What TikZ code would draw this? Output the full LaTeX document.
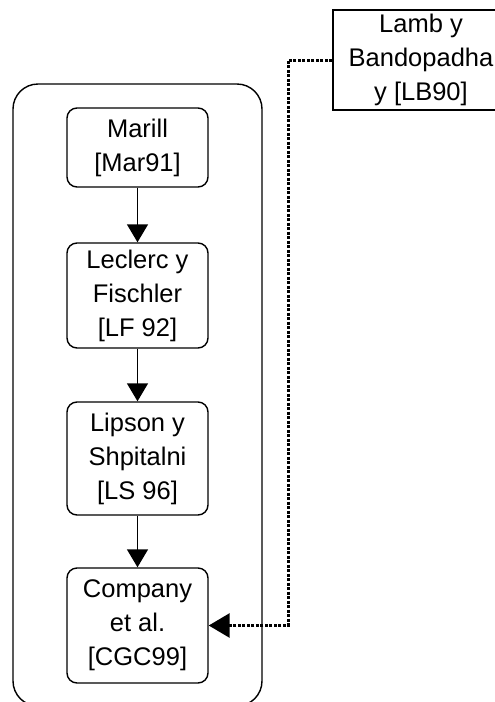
\documentclass[tikz,border=0pt]{standalone}
\usepackage{fontspec}
\setmainfont{Liberation Sans}
\usetikzlibrary{arrows.meta}

\tikzset{
  refbox/.style={draw,line width=1.4pt,rounded corners=10pt,align=center,inner sep=0pt,minimum width=141pt},
  srcbox/.style={draw,line width=1.4pt,align=center,inner sep=0pt},
  flow/.style={line width=1.4pt,-{Triangle[length=18pt,width=21pt]}},
  cite/.style={line width=3pt,dash pattern=on 3pt off 1.5pt,-{Triangle[length=21pt,width=24pt]}}
}

\begin{document}
\begin{tikzpicture}[x=1pt,y=1pt,yscale=-1,font=\fontsize{25.5}{34}\selectfont]
\useasboundingbox (0,0) rectangle (495,702);
\clip (0,0) rectangle (495,702);

%Rounded Rect
\draw[line width=1.4pt,rounded corners=25pt] (13,84) rectangle (262,706) ;

% Text Node
\node[refbox,minimum height=79pt] (marill) at (137.5,147.5) {Marill\\{[Mar91]}};
% Text Node
\node[refbox,minimum height=105pt] (leclerc) at (137.5,295.5) {Leclerc y\\Fischler\\{[LF 92]}};
% Text Node
\node[refbox,minimum height=113pt] (lipson) at (137.5,458.5) {Lipson y\\Shpitalni\\{[LS 96]}};
% Text Node
\node[refbox,minimum height=115pt] (company) at (137.5,625.5) {Company\\et al.\\{[CGC99]}};
% Text Node
\node[srcbox,minimum width=176pt,minimum height=100pt] (lamb) at (421,60) {Lamb y\\Bandopadha\\y [LB90]};

%Straight Lines
\draw[flow] (marill) -- (leclerc) ;
%Straight Lines
\draw[flow] (leclerc) -- (lipson) ;
%Straight Lines
\draw[flow] (lipson) -- (company) ;

\coordinate (elbow) at (288,625.5);
%Dotted Lines
\draw[cite] (lamb.west) -| (elbow) -- (company.east) ;

\end{tikzpicture}
\end{document}
